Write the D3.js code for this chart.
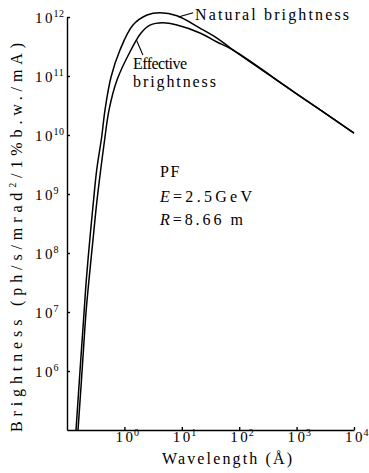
<!DOCTYPE html>
<html>
<head>
<meta charset="utf-8">
<script src="https://cdn.jsdelivr.net/npm/d3@7"></script>
<style>
  html, body { margin: 0; padding: 0; background: #fff; }
  svg { display: block; }
  text { font-family: "Liberation Serif", "DejaVu Serif", serif; fill: #000; }
</style>
</head>
<body>
<svg id="chart" width="369" height="473"></svg>
<script>
// values (wavelength in Å, brightness)
const natWavelength = [0.1436, 0.168, 0.198, 0.217, 0.252, 0.287, 0.329, 0.402, 0.459, 0.585, 0.838, 1.41, 2.48, 4.17, 8.24, 20.7, 41.0, 78, 1000, 10000];
const natBrightness = [1e5, 9.6e5, 9.6e6, 3.5e7, 1.87e8, 7.0e8, 2.55e9, 9.25e9, 2.65e10, 9.6e10, 2.76e11, 7.3e11, 1.08e12, 1.18e12, 1.05e12, 6.5e11, 4.4e11, 2.76e11, 5.0e10, 1.08e10];

const effWavelength = [0.1556, 0.1825, 0.214, 0.2415, 0.287, 0.329, 0.386, 0.459, 0.539, 0.743, 1.30, 1.95, 2.79, 4.70, 8.24, 20.7, 41.0, 78, 1000, 10000];
const effBrightness = [1e5, 9.6e5, 9.6e6, 3.5e7, 1.87e8, 7.0e8, 2.55e9, 9.25e9, 2.65e10, 8.55e10, 2.76e11, 5.36e11, 7.3e11, 8.0e11, 7.3e11, 5.36e11, 3.77e11, 2.76e11, 5.0e10, 1.08e10];

const xTicks = [1, 10, 100, 1000, 10000];
const xTickExp = ["0", "1", "2", "3", "4"];
const yTicks = [1e6, 1e7, 1e8, 1e9, 1e10, 1e11, 1e12];
const yTickExp = ["6", "7", "8", "9", "10", "11", "12"];

const svg = d3.select("#chart");

const x = d3.scaleLog().domain([0.1, 1e4]).range([67, 354]);
const y = d3.scaleLog().domain([1e5, 1e12]).range([430, 17]);

// axes, ticks point inward
svg.append("g")
  .attr("transform", `translate(0,${y(1e5)})`)
  .call(d3.axisBottom(x).tickValues(xTicks).tickSizeInner(-3).tickSizeOuter(0).tickFormat(""))
  .call(g => g.selectAll("path, line").attr("stroke", "#000").attr("stroke-width", 1.4));

svg.append("g")
  .attr("transform", `translate(${x(0.1)},0)`)
  .call(d3.axisLeft(y).tickValues(yTicks).tickSizeInner(-3).tickSizeOuter(0).tickFormat(""))
  .call(g => g.selectAll("path, line").attr("stroke", "#000").attr("stroke-width", 1.4));

// tick labels with superscripts
xTicks.forEach((v, i) => {
  const t = svg.append("text")
    .attr("x", x(v) - 9)
    .attr("y", y(1e5) + 12)
    .attr("font-size", 15)
    .attr("letter-spacing", 2.5);
  t.append("tspan").text("10");
  t.append("tspan").attr("font-size", 10).attr("dy", -6).attr("dx", -1.5).attr("letter-spacing", 0.5).text(xTickExp[i]);
});

yTicks.forEach((v, i) => {
  const t = svg.append("text")
    .attr("x", 35)
    .attr("y", y(v) + 6)
    .attr("font-size", 15)
    .attr("letter-spacing", 2.5);
  t.append("tspan").text("10");
  t.append("tspan").attr("font-size", 10).attr("dy", -6).attr("dx", -1.5).attr("letter-spacing", 0.5).text(yTickExp[i]);
});

// curves
svg.append("clipPath").attr("id", "plotClip")
  .append("rect")
  .attr("x", x(0.1)).attr("y", y(1e12) - 10)
  .attr("width", x(1e4) - x(0.1) + 2).attr("height", y(1e5) - y(1e12) + 10);

const line = d3.line()
  .x(d => x(d[0]))
  .y(d => y(d[1]))
  .curve(d3.curveCatmullRom.alpha(0.5));

const natural = d3.zip(natWavelength, natBrightness);
const effective = d3.zip(effWavelength, effBrightness);

const curves = svg.append("g").attr("clip-path", "url(#plotClip)");
[natural, effective].forEach(series => {
  curves.append("path")
    .datum(series)
    .attr("d", line)
    .attr("fill", "none")
    .attr("stroke", "#000")
    .attr("stroke-width", 1.5);
});

// leader lines to the labels
svg.append("line")
  .attr("x1", x(8.7)).attr("y1", y(1.0e12))
  .attr("x2", x(15.8)).attr("y2", y(1.18e12))
  .attr("stroke", "#000").attr("stroke-width", 1.1);

svg.append("line")
  .attr("x1", x(1.62)).attr("y1", y(4.07e11))
  .attr("x2", x(2.1)).attr("y2", y(2.27e11))
  .attr("stroke", "#000").attr("stroke-width", 1.1);

// labels
svg.append("text").attr("x", 195).attr("y", 20)
  .attr("font-size", 16).attr("textLength", 154).attr("lengthAdjust", "spacing")
  .text("Natural brightness");

svg.append("text").attr("x", 133).attr("y", 69)
  .attr("font-size", 16).attr("textLength", 54).attr("lengthAdjust", "spacing")
  .text("Effective");
svg.append("text").attr("x", 133).attr("y", 87)
  .attr("font-size", 16).attr("textLength", 83).attr("lengthAdjust", "spacing")
  .text("brightness");

svg.append("text").attr("x", 160).attr("y", 177)
  .attr("font-size", 16).attr("letter-spacing", 1.5).text("PF");

const eLine = svg.append("text").attr("x", 160).attr("y", 202)
  .attr("font-size", 16).attr("textLength", 92).attr("lengthAdjust", "spacing");
eLine.append("tspan").attr("font-style", "italic").text("E");
eLine.append("tspan").text("=2.5GeV");

const rLine = svg.append("text").attr("x", 160).attr("y", 225)
  .attr("font-size", 16).attr("textLength", 83).attr("lengthAdjust", "spacing");
rLine.append("tspan").attr("font-style", "italic").text("R");
rLine.append("tspan").text("=8.66\u2009m");

// axis titles
svg.append("text")
  .attr("x", 162).attr("y", 464)
  .attr("font-size", 16)
  .attr("textLength", 130).attr("lengthAdjust", "spacing")
  .text("Wavelength (\u00c5)");

const yTitle = svg.append("text")
  .attr("transform", "translate(22,432) rotate(-90)")
  .attr("font-size", 16)
  .attr("textLength", 389).attr("lengthAdjust", "spacing");
yTitle.append("tspan").text("Brightness (ph/s/mrad");
yTitle.append("tspan").attr("font-size", 10).attr("dy", -6).text("2");
yTitle.append("tspan").attr("dy", 6).text("/1%b.w./mA)");
</script>
</body>
</html>
